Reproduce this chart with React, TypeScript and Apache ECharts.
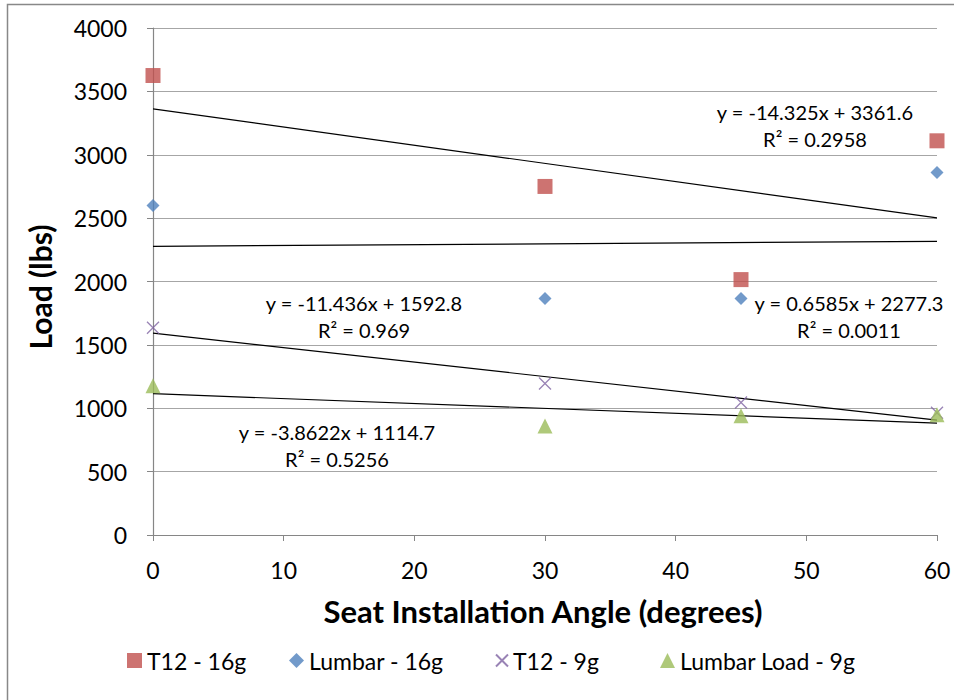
import React, { useEffect, useRef } from "react";
import * as echarts from "echarts";

const angles = [0, 30, 45, 60];
const t12_16g = [3625, 2750, 2015, 3110];
const lumbar_16g = [2600, 1865, 1865, 2860];
const t12_9g = [1635, 1195, 1045, 965];
const lumbar_9g = [1178, 860, 940, 948];

// trendline coefficients as printed on the chart
const trendSlopes = [-14.325, 0.6585, -11.436, -3.8622];
const trendIntercepts = [3361.6, 2277.3, 1592.8, 1114.7];
const trendLabels = [
  ["y = -14.325x + 3361.6", "R² = 0.2958"],
  ["y = 0.6585x + 2277.3", "R² = 0.0011"],
  ["y = -11.436x + 1592.8", "R² = 0.969"],
  ["y = -3.8622x + 1114.7", "R² = 0.5256"],
];
const seriesNames = ["T12 - 16g", "Lumbar - 16g", "T12 - 9g", "Lumbar Load - 9g"];
const xTicks = { min: 0, max: 60, interval: 10 };
const yTicks = { min: 0, max: 4000, interval: 500 };

const FONT = "Lato, 'Noto Sans', sans-serif";
const XPATH = "path://M0,0L10,10M10,0L0,10";

export default function App() {
  const ref = useRef<HTMLDivElement>(null);
  useEffect(() => {
    if (!ref.current) return;
    const chart = echarts.init(ref.current, null, { renderer: "svg" });
    const values = [t12_16g, lumbar_16g, t12_9g, lumbar_9g];
    const symbols = ["rect", "diamond", XPATH, "triangle"];
    const sizes = [15, 13, 12, 15];
    const colors = ["#C0504D", "#4F81BD", "#8064A2", "#9BBB59"];
    const scatter = values.map((vals, i) => ({
      name: seriesNames[i],
      type: "scatter",
      symbol: symbols[i],
      symbolSize: sizes[i],
      z: 3,
      itemStyle:
        i === 2
          ? { color: "rgba(0,0,0,0)", borderColor: colors[i], borderWidth: 1.3 }
          : { color: colors[i] },
      data: angles.map((a, j) => [a, vals[j]]),
    }));
    const xs = [angles[0], angles[angles.length - 1]];
    const trends = trendSlopes.map((m, i) => ({
      name: "trend" + i,
      type: "line",
      symbol: "none",
      silent: true,
      z: 2,
      lineStyle: { color: "#000", width: 1.2 },
      data: xs.map((x) => [x, m * x + trendIntercepts[i]]),
    }));
    const labelPos = [
      [815, 125],
      [849, 316],
      [364, 316],
      [337, 445],
    ];
    const graphics: any[] = [];
    trendLabels.forEach((lines, i) => {
      graphics.push({
        type: "text",
        x: labelPos[i][0],
        y: labelPos[i][1],
        style: {
          text: lines[0] + "\n" + lines[1],
          align: "center",
          verticalAlign: "middle",
          font: `20px ${FONT}`,
          lineHeight: 27,
          fill: "#000",
        },
        z: 10,
      });
    });
    graphics.push({
      type: "text",
      x: 543,
      y: 611,
      style: {
        text: "Seat Installation Angle (degrees)",
        align: "center",
        verticalAlign: "middle",
        font: `bold 31px ${FONT}`,
        fill: "#000",
      },
    });
    graphics.push({
      type: "text",
      x: 40,
      y: 287,
      rotation: Math.PI / 2,
      style: {
        text: "Load (lbs)",
        align: "center",
        verticalAlign: "middle",
        font: `bold 30px ${FONT}`,
        fill: "#000",
      },
    });
    graphics.push({
      type: "rect",
      shape: { x: 7.5, y: 4.5, width: 1000, height: 1000 },
      style: { fill: "none", stroke: "#888", lineWidth: 1.5 },
      silent: true,
    });
    const legendLefts = [122, 284, 490, 655];
    const legendIcons = ["rect", "diamond", XPATH, "triangle"];
    const legends = seriesNames.map((n, i) => ({
      left: legendLefts[i],
      top: 644,
      itemWidth: i === 2 ? 12 : 15,
      itemHeight: i === 2 ? 12 : 15,
      itemGap: i === 2 ? 9 : 6,
      textStyle: { fontFamily: FONT, fontSize: 23, color: "#000" },
      data: [{ name: n, icon: legendIcons[i] }],
      selectedMode: false,
    }));
    chart.setOption({
      animation: false,
      backgroundColor: "#fff",
      grid: { left: 153, right: 17, top: 28, bottom: 165, containLabel: false },
      legend: legends,
      xAxis: {
        type: "value",
        ...xTicks,
        axisLine: { show: true, onZero: false, lineStyle: { color: "#868686", width: 1.2 } },
        axisTick: { show: true, length: 6, lineStyle: { color: "#868686" } },
        splitLine: { show: false },
        axisLabel: { fontFamily: FONT, fontSize: 23, color: "#000", margin: 23 },
      },
      yAxis: {
        type: "value",
        ...yTicks,
        axisLine: { show: true, lineStyle: { color: "#868686", width: 1.2 } },
        axisTick: { show: true, length: 6, lineStyle: { color: "#868686" } },
        splitLine: { show: true, lineStyle: { color: "#A6A6A6", width: 1.2 } },
        axisLabel: {
          fontFamily: FONT,
          fontSize: 23,
          color: "#000",
          margin: 26,
          formatter: (v: number) => String(v),
        },
      },
      graphic: graphics,
      series: [...trends, ...scatter],
    });
    return () => chart.dispose();
  }, []);
  return <div ref={ref} style={{ width: 954, height: 700, position: "absolute", left: 0, top: 0 }} />;
}
